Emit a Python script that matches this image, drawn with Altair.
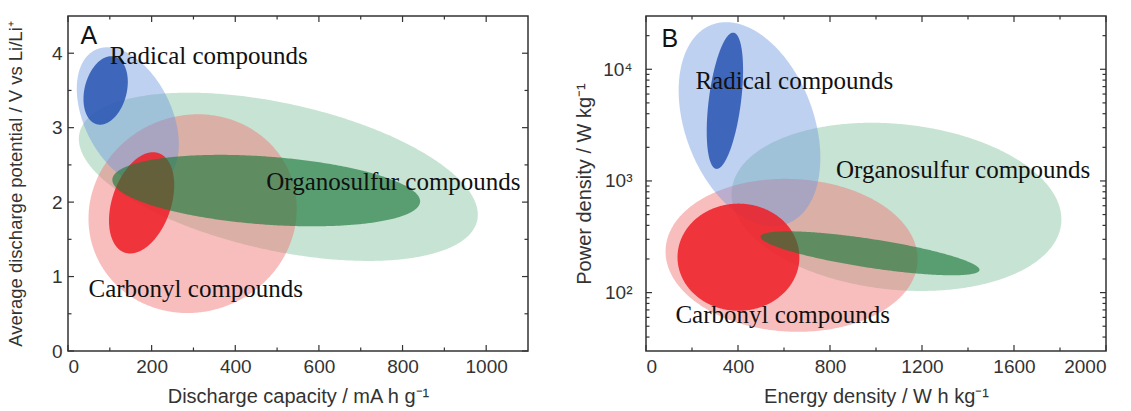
import numpy as np
import pandas as pd
import altair as alt

# ---------------- data ----------------
REGIONS = ["organosulfur_range", "carbonyl_range", "radical_range",
           "carbonyl_core", "organosulfur_core", "radical_core"]

# Panel A: discharge capacity (mA h g-1) vs average discharge potential (V)
A_cx = [503, 298, 143, 176, 474, 90]
A_cy = [2.34, 1.845, 3.15, 1.99, 2.155, 3.5]
A_rx = [477, 249, 122, 78, 368, 53]
A_ry = [1.13, 1.335, 0.93, 0.68, 0.48, 0.46]
A_rho = [-0.45, 0.05, -0.4, 0.35, -0.3, 0.25]

# Panel B: energy density (W h kg-1) vs log10 power density (W kg-1)
B_cx = [1089, 633, 450, 402, 974, 343]
B_cly = [2.768, 2.334, 3.508, 2.317, 2.352, 3.718]
B_rx = [717, 548, 308, 265, 476, 79]
B_rly = [0.753, 0.685, 0.914, 0.48, 0.197, 0.61]
B_rho = [-0.15, -0.05, -0.33, 0.0, -0.75, 0.45]

LABELS = ["Radical compounds", "Organosulfur compounds", "Carbonyl compounds"]
A_label_x = [100, 474, 49]
A_label_y = [3.86, 2.16, 0.73]
B_label_x = [215, 826, 128]
B_label_y = [6714, 1072, 53.7]

A_letter = ("A", 50, 4.23)
B_letter = ("B", 104, 18840)

A_x_major = [0, 200, 400, 600, 800, 1000]
A_x_minor = [100, 300, 500, 700, 900]
A_y_major = [0, 1, 2, 3, 4]
A_y_minor = [0.5, 1.5, 2.5, 3.5]
B_x_major = [0, 400, 800, 1200, 1600, 2000]
B_x_minor = [200, 600, 1000, 1400, 1800]
B_y_major = [100, 1000, 10000]
B_y_minor = [40, 50, 60, 70, 80, 90, 200, 300, 400, 500, 600, 700, 800, 900,
             2000, 3000, 4000, 5000, 6000, 7000, 8000, 9000, 20000]

# ---------------- style ----------------
FILL = {"organosulfur_range": "#5fb080", "carbonyl_range": "#ef6f6f",
        "radical_range": "#6f9ae0", "carbonyl_core": "#ee1c24",
        "organosulfur_core": "#1e7a3c", "radical_core": "#2854b0"}
OPAC = {"organosulfur_range": 0.35, "carbonyl_range": 0.45,
        "radical_range": 0.45, "carbonyl_core": 0.85,
        "organosulfur_core": 0.65, "radical_core": 0.85}

W, H = 460, 335
SANS = "Liberation Sans"
SERIF = "Liberation Serif"
AX = "#333333"


def outline(cx, cy, rx, ry, rho, n=241):
    s = np.linspace(np.pi, 0, n)
    u = np.cos(s)
    q = np.sqrt(1 - rho ** 2) * np.sqrt(np.clip(1 - u ** 2, 0, None))
    return cx + rx * u, cy + ry * (rho * u - q), cy + ry * (rho * u + q)


def tick_layers(xmaj, xmin, ymaj, ymin, xs, ys, xaxis, yaxis):
    out = []
    for vals, L in ((xmaj, 6), (xmin, 3.5)):
        d = pd.DataFrame({"v": vals})
        b = alt.Chart(d).mark_rule(color=AX, strokeWidth=1.2)
        xe = alt.X("v:Q", scale=xs, axis=xaxis)
        out.append(b.encode(x=xe, y=alt.value(H), y2=alt.value(H - L)))
        out.append(b.encode(x=xe, y=alt.value(0), y2=alt.value(L)))
    for vals, L in ((ymaj, 6), (ymin, 3.5)):
        d = pd.DataFrame({"v": vals})
        b = alt.Chart(d).mark_rule(color=AX, strokeWidth=1.2)
        ye = alt.Y("v:Q", scale=ys, axis=yaxis)
        out.append(b.encode(y=ye, x=alt.value(0), x2=alt.value(L)))
        out.append(b.encode(y=ye, x=alt.value(W), x2=alt.value(W - L)))
    return out


def panel(cx, cy, rx, ry, rho, logy, xs, ys, xaxis, yaxis,
          lx, ly, letter, tick_vals):
    layers = []
    for i, key in enumerate(REGIONS):
        x, lo, hi = outline(cx[i], cy[i], rx[i], ry[i], rho[i])
        if logy:
            lo, hi = 10 ** lo, 10 ** hi
        df = pd.DataFrame({"ex": x.round(3), "lo": lo.round(5), "hi": hi.round(5)})
        layers.append(
            alt.Chart(df).mark_area(color=FILL[key], opacity=OPAC[key])
            .encode(x=alt.X("ex:Q", scale=xs, axis=xaxis),
                    y=alt.Y("lo:Q", scale=ys, axis=yaxis, stack=None),
                    y2=alt.Y2("hi"))
        )
    layers += tick_layers(*tick_vals, xs, ys, xaxis, yaxis)
    tdf = pd.DataFrame({"x": lx, "y": ly, "t": LABELS})
    layers.append(
        alt.Chart(tdf).mark_text(align="left", baseline="alphabetic", font=SERIF,
                                 fontSize=25, color="#111111")
        .encode(x=alt.X("x:Q", scale=xs, axis=xaxis),
                y=alt.Y("y:Q", scale=ys, axis=yaxis), text="t:N")
    )
    ldf = pd.DataFrame({"x": [letter[1]], "y": [letter[2]], "t": [letter[0]]})
    layers.append(
        alt.Chart(ldf).mark_text(align="center", baseline="middle", font=SANS,
                                 fontSize=25, color="#111111")
        .encode(x=alt.X("x:Q", scale=xs, axis=xaxis),
                y=alt.Y("y:Q", scale=ys, axis=yaxis), text="t:N")
    )
    return alt.layer(*layers).properties(width=W, height=H)


xsA = alt.Scale(domain=[0, 1100], nice=False, zero=False)
ysA = alt.Scale(domain=[0, 4.5], nice=False, zero=False)
xaxA = alt.Axis(title="Discharge capacity / mA h g⁻¹", values=A_x_major, format="d",
                labelPadding=6, titlePadding=10)
yaxA = alt.Axis(title="Average discharge potential / V vs Li/Li⁺", values=A_y_major,
                format="d", labelPadding=6, titlePadding=26, titleFontSize=18.5)

xsB = alt.Scale(domain=[0, 2000], nice=False, zero=False)
ysB = alt.Scale(type="log", domain=[30, 30000], nice=False)
xaxB = alt.Axis(title="Energy density / W h kg⁻¹", values=B_x_major, format="d",
                labelPadding=6, titlePadding=10)
yaxB = alt.Axis(title="Power density / W kg⁻¹", values=B_y_major,
                labelExpr="datum.value == 100 ? '10²' : datum.value == 1000 ? '10³' : '10⁴'",
                labelPadding=14, titlePadding=8)

pA = panel(A_cx, A_cy, A_rx, A_ry, A_rho, False, xsA, ysA, xaxA, yaxA,
           A_label_x, A_label_y, A_letter,
           (A_x_major, A_x_minor, A_y_major, A_y_minor))
pB = panel(B_cx, B_cly, B_rx, B_rly, B_rho, True, xsB, ysB, xaxB, yaxB,
           B_label_x, B_label_y, B_letter,
           (B_x_major, B_x_minor, B_y_major, B_y_minor))

chart = (
    alt.hconcat(pA, pB, spacing=43)
    .properties(padding={"left": 5, "top": 14, "right": 0, "bottom": 0},
                background="white")
    .configure_view(stroke=AX, strokeWidth=1.5)
    .configure_axis(grid=False, ticks=False, domain=False, labelFont=SANS,
                    labelFontSize=19, labelColor=AX, titleFont=SANS,
                    titleFontSize=20, titleFontWeight="normal", titleColor=AX)
)

chart.save("out.html", embed_options={"renderer": "svg", "actions": False})
